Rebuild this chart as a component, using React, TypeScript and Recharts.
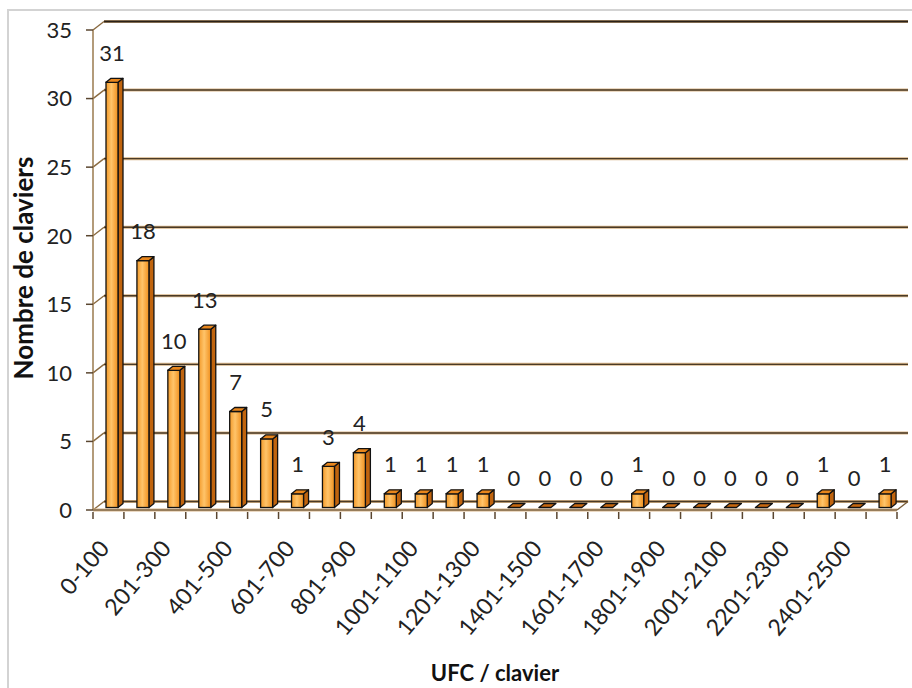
import React from 'react';
import { BarChart, Bar, XAxis, YAxis, CartesianGrid, LabelList } from 'recharts';

const categories = [
  '0-100', '101-200', '201-300', '301-400', '401-500', '501-600', '601-700', '701-800',
  '801-900', '901-1000', '1001-1100', '1101-1200', '1201-1300', '1301-1400', '1401-1500',
  '1501-1600', '1601-1700', '1701-1800', '1801-1900', '1901-2000', '2001-2100', '2101-2200',
  '2201-2300', '2301-2400', '2401-2500', '2501-2600',
];
const counts = [31, 18, 10, 13, 7, 5, 1, 3, 4, 1, 1, 1, 1, 0, 0, 0, 0, 1, 0, 0, 0, 0, 0, 1, 0, 1];
const yTicks = [0, 5, 10, 15, 20, 25, 30, 35];

const data = categories.map((name, i) => ({ name, count: counts[i] }));

const FONT = 'Lato, "Open Sans", sans-serif';
const WALL_DX = 11;
const WALL_DY = -8.5;
const BAR_OX = 4;
const BAR_OY = -2.5;
const BAR_DX = 5;
const BAR_DY = -4;

const GridLine = (p: any) => {
  const isFloor = Math.abs(p.y1 - (p.y + p.height)) < 0.5;
  const isTop = Math.abs(p.y1 - p.y) < 0.5;
  const bx1 = p.x1 + WALL_DX;
  const bx2 = p.x2 + WALL_DX;
  const by = p.y1 + WALL_DY;
  return (
    <g key={`g-${p.index}-${p.y1}`}>
      <line x1={bx1} y1={by} x2={bx2} y2={by} stroke="#d7b487" strokeWidth={3} />
      <line x1={bx1} y1={by} x2={bx2} y2={by} stroke={isTop ? '#2a2118' : '#4a3a26'} strokeWidth={isTop ? 1.8 : 1.4} />
      <line x1={p.x1} y1={p.y1} x2={bx1} y2={by} stroke="#8a6a40" strokeWidth={1.4} />
      {isFloor && (
        <g>
          <line x1={p.x1} y1={p.y1} x2={p.x2} y2={p.y2} stroke="#d7b487" strokeWidth={3} />
          <line x1={p.x1} y1={p.y1} x2={p.x2} y2={p.y2} stroke="#5a4630" strokeWidth={1.2} />
          <line x1={p.x2} y1={p.y2} x2={bx2} y2={by} stroke="#7a5e3a" strokeWidth={1.4} />
        </g>
      )}
    </g>
  );
};

const Bar3D = (props: any) => {
  const { x, y, width, height, index } = props;
  const fx = x + BAR_OX;
  const fy = y + BAR_OY;
  const h = Math.max(0, height);
  const id = `bg-${index}`;
  const top = `${fx},${fy} ${fx + BAR_DX},${fy + BAR_DY} ${fx + width + BAR_DX},${fy + BAR_DY} ${fx + width},${fy}`;
  const side = `${fx + width},${fy} ${fx + width + BAR_DX},${fy + BAR_DY} ${fx + width + BAR_DX},${fy + h + BAR_DY} ${fx + width},${fy + h}`;
  return (
    <g>
      <defs>
        <linearGradient id={id} x1="0" y1="0" x2="1" y2="0">
          <stop offset="0%" stopColor="#f39a2a" />
          <stop offset="45%" stopColor="#ffc46a" />
          <stop offset="100%" stopColor="#f0901e" />
        </linearGradient>
      </defs>
      {h > 0.5 && <polygon points={side} fill="#c0640e" stroke="#111" strokeWidth={1.3} strokeLinejoin="round" />}
      {h > 0.5 && <rect x={fx} y={fy} width={width} height={h} fill={`url(#${id})`} stroke="#111" strokeWidth={1.3} />}
      <polygon points={top} fill={h > 0.5 ? '#e8861c' : '#c8680f'} stroke="#111" strokeWidth={1.3} strokeLinejoin="round" />
    </g>
  );
};

const ValueLabel = (props: any) => {
  const { x, y, width, value } = props;
  return (
    <text x={x + width / 2 + BAR_OX} y={y - 24} textAnchor="middle" fontFamily={FONT} fontSize={22} fill="#222">
      {value}
    </text>
  );
};

const XTick = (props: any) => {
  const { x, y, payload, index } = props;
  const half = payload && typeof payload.offset === 'number' ? payload.offset : 15.46;
  const isLast = index === categories.length - 1;
  const px = x + 2;
  const py = y + 37;
  return (
    <g>
      <line x1={x - half} y1={y} x2={x - half} y2={y + 7} stroke="#5a4630" strokeWidth={1.5} />
      {isLast && <line x1={x + half} y1={y} x2={x + half} y2={y + 7} stroke="#5a4630" strokeWidth={1.5} />}
      {index % 2 === 0 && (
        <text x={px} y={py} textAnchor="end" fontFamily={FONT} fontSize={23} fill="#222" transform={`rotate(-50 ${px} ${py})`}>
          {payload.value}
        </text>
      )}
    </g>
  );
};

const YTitle = (props: any) => {
  const vb = props.viewBox || { x: 13, y: 30, width: 80, height: 480 };
  const tx = vb.x + 20;
  const ty = vb.y + vb.height / 2 - 2;
  return (
    <text x={tx} y={ty} textAnchor="middle" fontFamily={FONT} fontWeight="bold" fontSize={26} fill="#111" transform={`rotate(-90 ${tx} ${ty})`}>
      Nombre de claviers
    </text>
  );
};

const XTitle = (props: any) => {
  const vb = props.viewBox || { x: 93, y: 510, width: 804, height: 170 };
  const tx = vb.x + vb.width / 2;
  const ty = vb.y + vb.height + 1;
  return (
    <text x={tx} y={ty} textAnchor="middle" fontFamily={FONT} fontWeight="bold" fontSize={22} fill="#111">
      UFC / clavier
    </text>
  );
};

export default function App() {
  return (
    <div style={{ position: 'absolute', left: 0, top: 0, width: 912, height: 688, background: '#fff', overflow: 'hidden' }}>
      <div
        style={{
          position: 'absolute', left: 7, top: 9, width: 920, height: 700,
          borderLeft: '2px solid #d3d3d3', borderTop: '2px solid #d3d3d3',
        }}
      />
      <div style={{ position: 'absolute', left: 0, top: 0 }}>
        <BarChart width={912} height={688} data={data} margin={{ top: 30, right: 15, bottom: 8, left: 13 }}>
          <CartesianGrid horizontal={GridLine} vertical={false} />
          <XAxis
            dataKey="name"
            interval={0}
            tick={(p: any) => <XTick {...p} />}
            tickLine={false}
            tickSize={0}
            axisLine={false}
            height={170}
            label={{ content: (p: any) => <XTitle {...p} /> }}
          />
          <YAxis
            domain={[0, 35]}
            ticks={yTicks}
            width={80}
            tickSize={7}
            tickMargin={14}
            axisLine={{ stroke: '#9a7a4e', strokeWidth: 1.5 }}
            tickLine={{ stroke: '#5a4630', strokeWidth: 1.5 }}
            tick={{ fontFamily: FONT, fontSize: 22, fill: '#222' }}
            label={{ content: (p: any) => <YTitle {...p} /> }}
          />
          <Bar dataKey="count" barSize={12} shape={Bar3D} isAnimationActive={false}>
            <LabelList dataKey="count" content={ValueLabel} />
          </Bar>
        </BarChart>
      </div>
    </div>
  );
}
